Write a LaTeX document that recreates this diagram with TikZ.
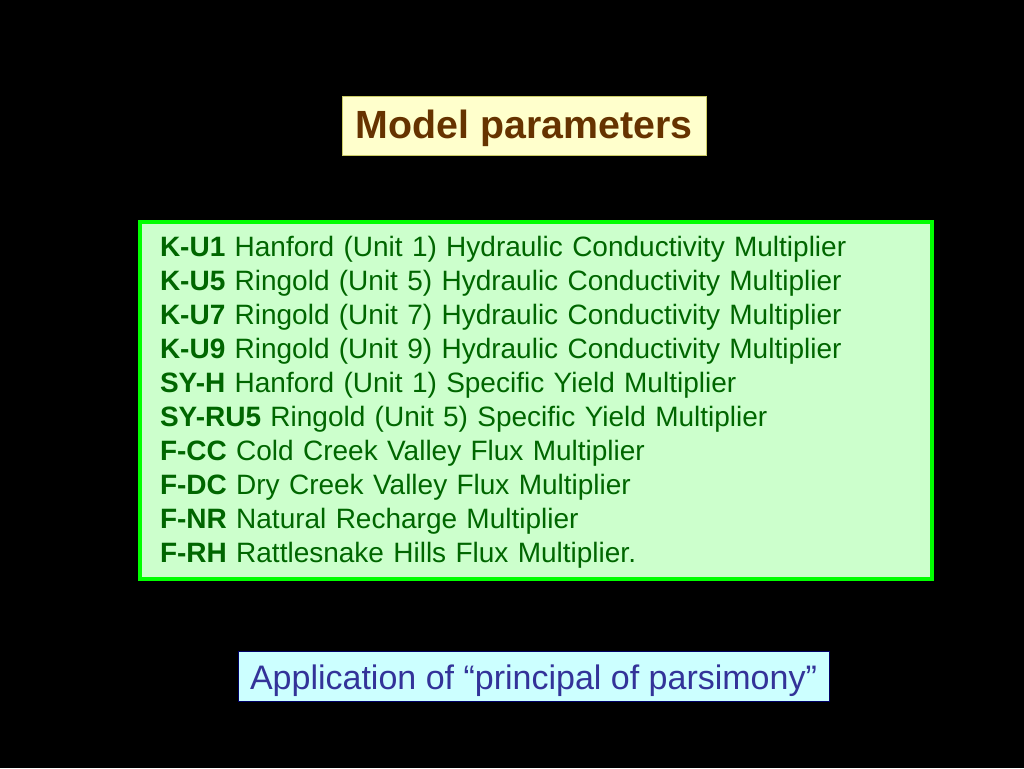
\documentclass[tikz,border=0pt]{standalone}
\usepackage{fontspec}
\setmainfont{Liberation Sans}
\definecolor{titlefill}{HTML}{FFFFCC}
\definecolor{titledraw}{HTML}{CCCC66}
\definecolor{titletext}{HTML}{663300}
\definecolor{listfill}{HTML}{CCFFCC}
\definecolor{listdraw}{HTML}{00FF00}
\definecolor{listtext}{HTML}{006600}
\definecolor{notefill}{HTML}{CCFFFF}
\definecolor{notedraw}{HTML}{000066}
\definecolor{notetext}{HTML}{333399}
\tikzset{
  titlebox/.style={draw=titledraw, line width=0.75pt, fill=titlefill, text=titletext,
    font=\fontsize{29.5}{34}\selectfont\bfseries, minimum width=364*0.75pt, minimum height=59*0.75pt,
    inner sep=0pt, text height=22pt, text depth=2.2pt},
  listbox/.style={draw=listdraw, line width=2.5pt, fill=listfill,
    minimum width=792*0.75pt, minimum height=357*0.75pt, inner sep=0pt},
  listtextstyle/.style={text=listtext, font=\fontsize{21.0}{25.5}\selectfont, align=left,
    text width=752*0.75pt, inner sep=0pt},
  notebox/.style={draw=notedraw, line width=0.75pt, fill=notefill, text=notetext,
    font=\fontsize{25.5}{30}\selectfont, minimum width=591*0.75pt, minimum height=50*0.75pt,
    inner sep=0pt, text height=20.7pt, text depth=0pt}
}
\begin{document}
\begin{tikzpicture}[x=0.75pt,y=-0.75pt]
\fill[black] (0,0) rectangle (1024,768);
\useasboundingbox (0,0) rectangle (1024,768);
\node[titlebox] (title) at (524,125.5) {Model parameters};
\node[listbox] (list) at (536,400.5) {};
\node[listtextstyle] (items) at ([yshift=-1.5pt]list.center) {%
\textbf{K-U1} Hanford (Unit 1) Hydraulic Conductivity Multiplier\\
\textbf{K-U5} Ringold (Unit 5) Hydraulic Conductivity Multiplier\\
\textbf{K-U7} Ringold (Unit 7) Hydraulic Conductivity Multiplier\\
\textbf{K-U9} Ringold (Unit 9) Hydraulic Conductivity Multiplier\\
\textbf{SY-H} Hanford (Unit 1) Specific Yield Multiplier\\
\textbf{SY-RU5} Ringold (Unit 5) Specific Yield Multiplier\\
\textbf{F-CC} Cold Creek Valley Flux Multiplier\\
\textbf{F-DC} Dry Creek Valley Flux Multiplier\\
\textbf{F-NR} Natural Recharge Multiplier\\
\textbf{F-RH} Rattlesnake Hills Flux Multiplier.};
\node[notebox] (note) at (533.5,676) {Application of “principal of parsimony”};
\end{tikzpicture}
\end{document}
